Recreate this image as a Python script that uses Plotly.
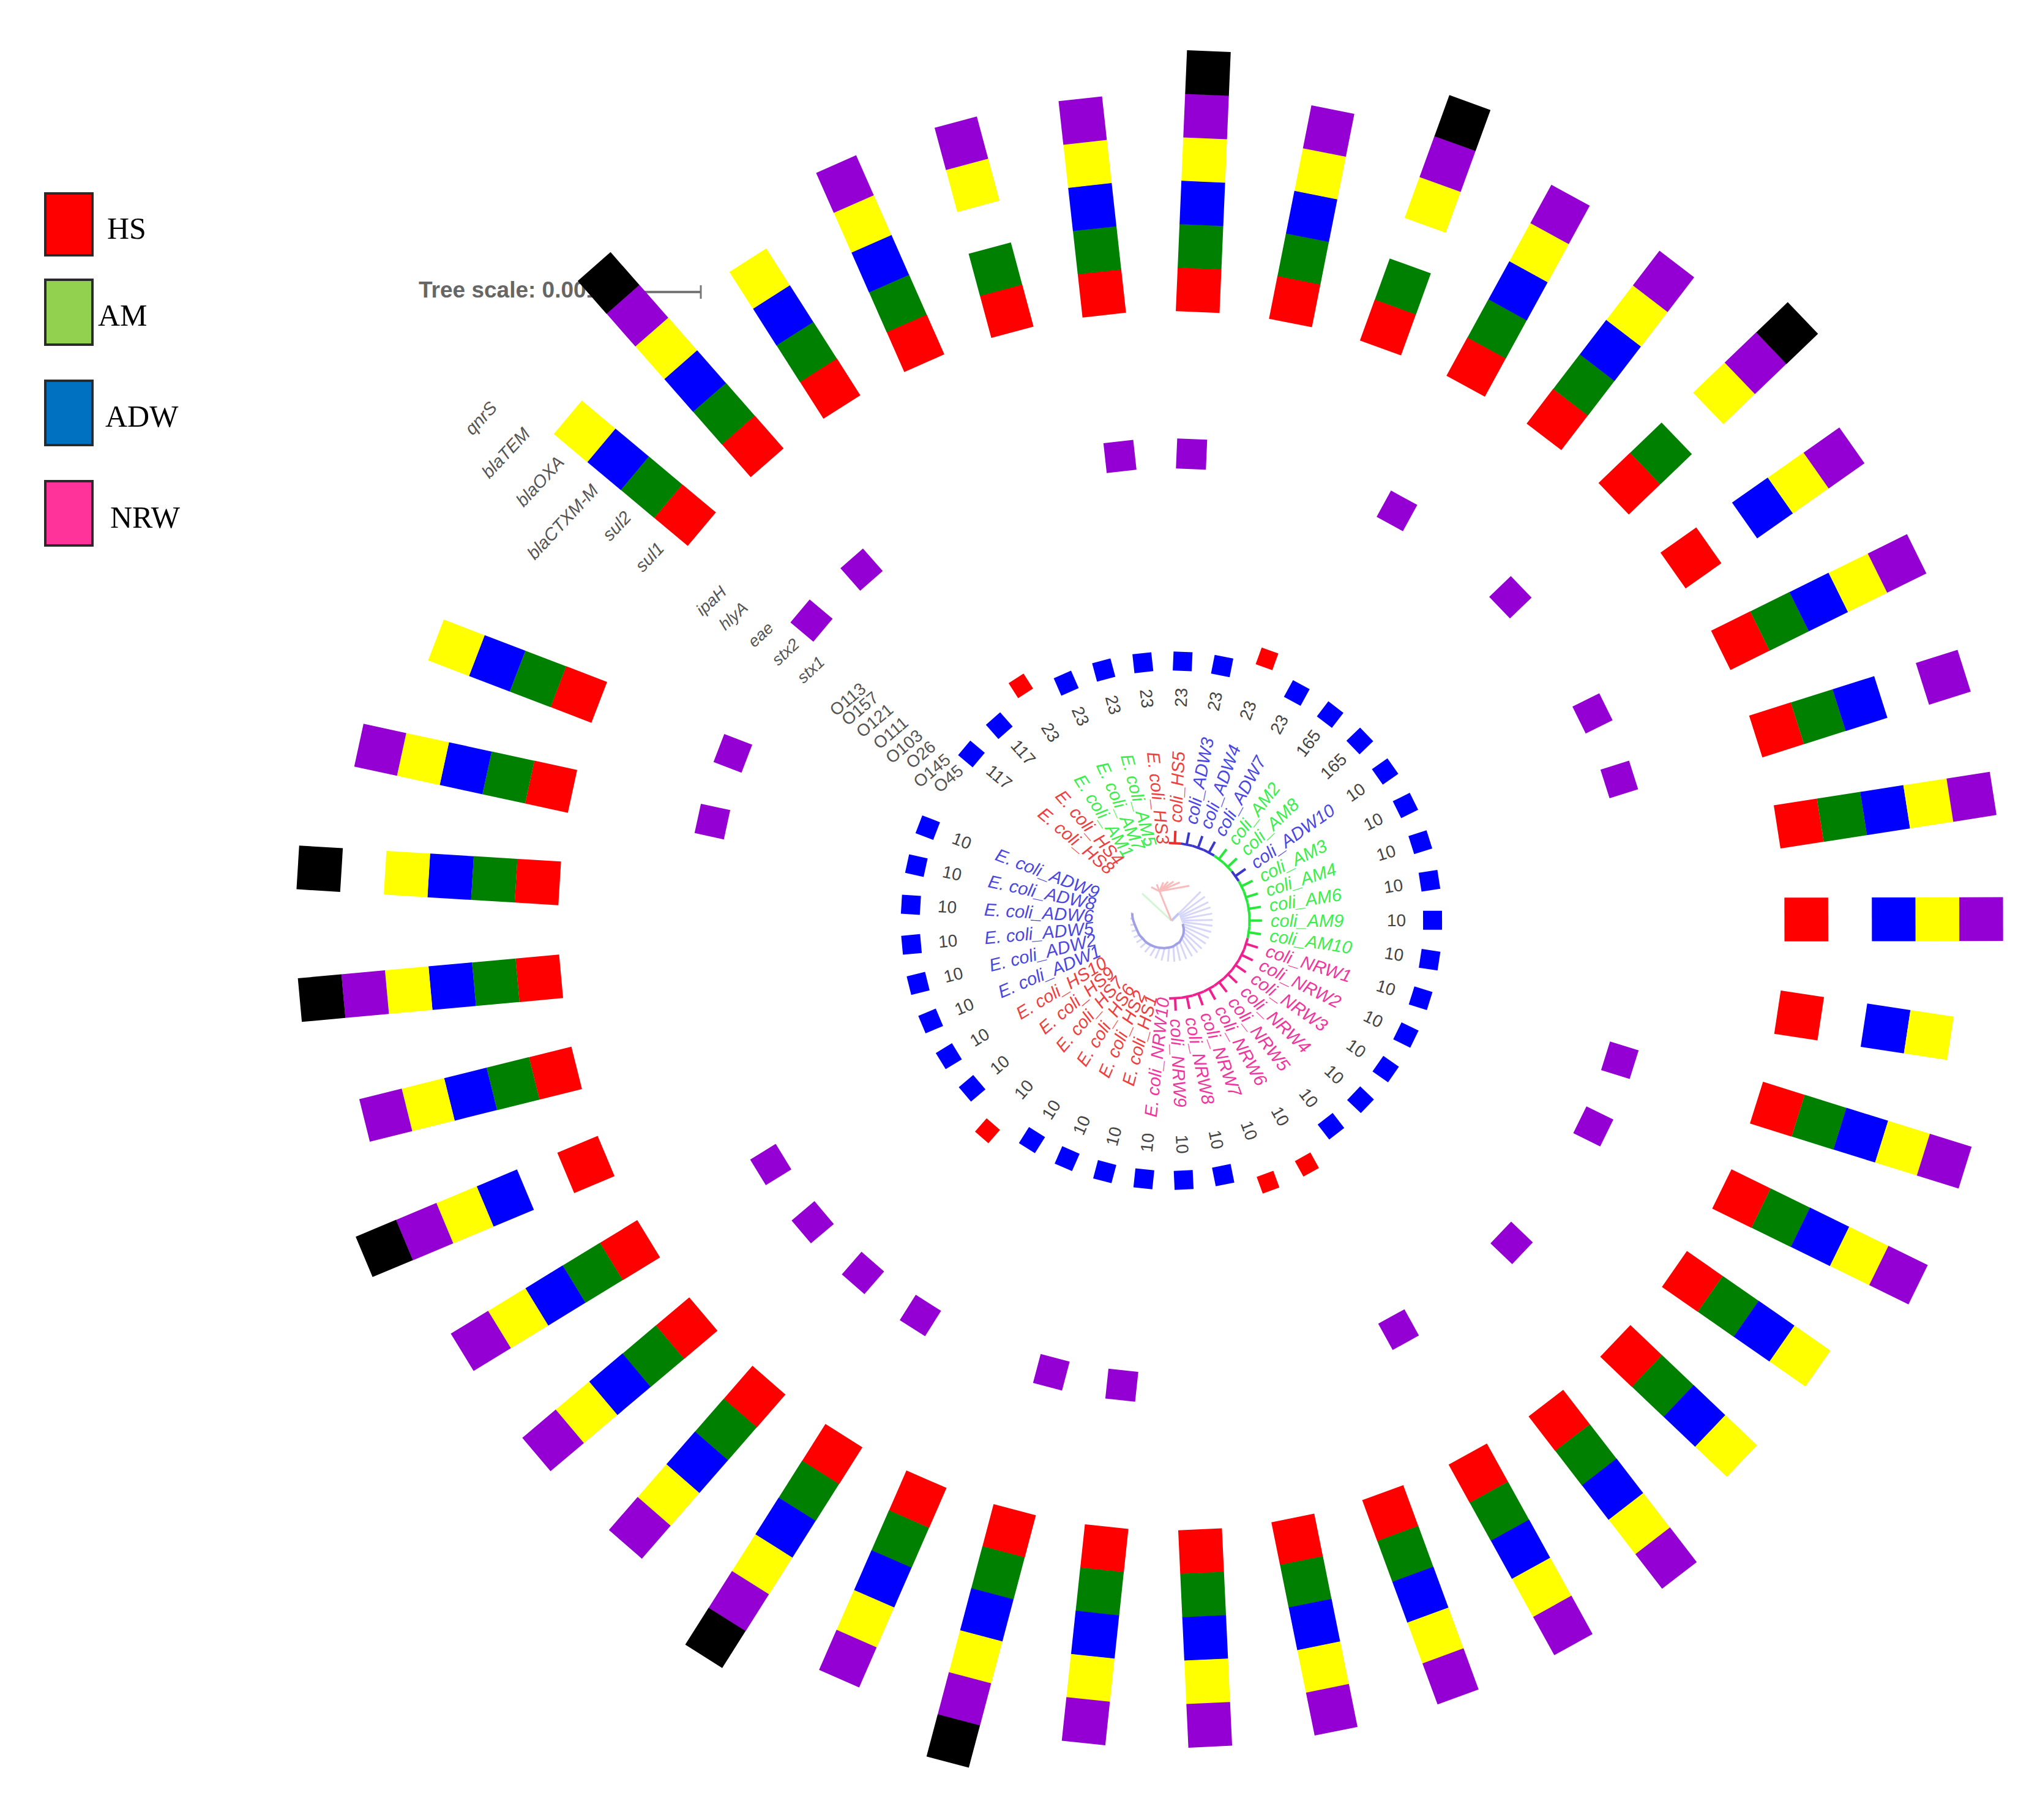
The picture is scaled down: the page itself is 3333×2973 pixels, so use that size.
import numpy as np
import plotly.graph_objects as go

# figure is drawn in pixel units with the tree root at the origin
WIDTH = 3333
HEIGHT = 2973
CX = 1914
CY = 1504
X_STRETCH = 1.006  # the picture is a little wider than it is tall

ISOLATES = ['ADW9', 'ADW8', 'ADW6', 'ADW5', 'ADW2', 'ADW1',
            'HS10', 'HS9', 'HS7', 'HS6', 'HS2', 'HS1',
            'NRW10', 'NRW9', 'NRW8', 'NRW7', 'NRW6', 'NRW5', 'NRW4', 'NRW3',
            'NRW2', 'NRW1',
            'AM10', 'AM9', 'AM6', 'AM4', 'AM3', 'ADW10', 'AM8', 'AM2',
            'ADW7', 'ADW4', 'ADW3', 'HS5', 'HS3', 'AM5', 'AM7', 'AM1',
            'HS4', 'HS8']

ST = [10, 10, 10, 10, 10, 10, 10, 10, 10, 10, 10, 10, 10, 10, 10, 10, 10, 10,
      10, 10, 10, 10, 10, 10, 10, 10, 10, 10, 165, 165, 23, 23, 23, 23, 23,
      23, 23, 23, 117, 117]

O45 = [1, 1, 1, 1, 1, 1, 1, 1, 0, 1, 1, 1, 1, 1, 1, 0, 0, 1, 1, 1,
       1, 1, 1, 1, 1, 1, 1, 1, 1, 1, 1, 0, 1, 1, 1, 1, 1, 0, 1, 1]
O145 = [1 - v for v in O45]
O_LABELS = ['O45', 'O145', 'O26', 'O103', 'O111', 'O121', 'O157', 'O113']

STX2 = [1, 1, 0, 0, 0, 0, 1, 1, 1, 1, 0, 1, 1, 0, 0, 0, 1, 0, 1, 0,
        1, 1, 0, 0, 0, 1, 1, 0, 1, 0, 1, 0, 0, 1, 1, 0, 0, 0, 1, 1]
VIR_LABELS = ['stx1', 'stx2', 'eae', 'hlyA', 'ipaH']

SUL1 = [1] * 40
SUL2 = [1, 1, 1, 1, 1, 0, 1, 1, 1, 1, 1, 1, 1, 1, 1, 1, 1, 1, 1, 1,
        1, 1, 0, 0, 1, 1, 1, 0, 1, 1, 1, 1, 1, 1, 1, 1, 1, 1, 1, 1]
CTXM = [1, 1, 1, 1, 1, 1, 1, 1, 1, 1, 1, 1, 1, 1, 1, 1, 1, 1, 1, 1,
        1, 1, 1, 1, 1, 1, 1, 1, 0, 1, 1, 0, 1, 1, 1, 0, 1, 1, 1, 1]
OXA = [1, 1, 1, 1, 1, 1, 1, 1, 1, 1, 1, 1, 1, 1, 1, 1, 1, 1, 1, 1,
       1, 1, 1, 1, 1, 0, 1, 1, 1, 1, 1, 1, 1, 1, 1, 1, 1, 1, 1, 1]
TEM = [0, 1, 0, 1, 1, 1, 1, 1, 1, 1, 1, 1, 1, 1, 1, 1, 1, 1, 0, 0,
       1, 1, 0, 1, 1, 1, 1, 1, 1, 1, 1, 1, 1, 1, 1, 1, 1, 0, 1, 0]
QNRS = [0, 0, 1, 1, 0, 1, 0, 0, 0, 1, 0, 1, 0, 0, 0, 0, 0, 0, 0, 0,
        0, 0, 0, 0, 0, 0, 0, 0, 1, 0, 0, 1, 0, 1, 0, 0, 0, 0, 1, 0]
GENES = [SUL1, SUL2, CTXM, OXA, TEM, QNRS]
GENE_LABELS = ['sul1', 'sul2', 'blaCTXM-M', 'blaOXA', 'blaTEM', 'qnrS']
GENE_COLORS = ['#ff0000', '#008000', '#0000ff', '#ffff00', '#9400d3', '#000000']

LEGEND_NAMES = ['HS', 'AM', 'ADW', 'NRW']
LEGEND_COLORS = ['#ff0000', '#92d050', '#0070c0', '#ff3399']

GROUP_TEXT = {'HS': '#ee3f3f', 'AM': '#3cee4c', 'ADW': '#4a46e2', 'NRW': '#f0359f'}
GROUP_LINE = {'HS': '#e83030', 'AM': '#25e83a', 'ADW': '#3a38cc', 'NRW': '#f0208f'}

# central tree (screen degrees, pixels)
FAN_ANGLES = [45, 36, 27, 19, 10, 1, -7, -16, -25, -34, -43, -51, -60, -69,
              -78, -86, -95, -104, -113, -121, -130, -139, -148, -156, -165,
              -174, -183, -191]
FAN_BASE = [17, 16, 15, 15, 15, 16, 17, 19, 21, 24, 27, 30, 33, 37,
            39, 42, 44, 46, 48, 50, 52, 54, 55, 57, 58, 60, 63, 65]
HS_TIP_ANGLES = [121, 112, 102, 95, 87, 78, 63]

START = 159
STEP = 8.744
THETA = [START + STEP * i for i in range(len(ISOLATES))]

CHAR_W = {'E': .667, '.': .278, ' ': .278, 'c': .5, 'o': .556, 'l': .222,
          'i': .222, '_': .556, 'A': .667, 'D': .722, 'W': .944, 'M': .833,
          'H': .722, 'S': .667, 'N': .722, 'R': .722}


def xy(r, deg):
    a = np.radians(deg)
    return r * np.cos(a), r * np.sin(a)


def px(x, y):
    return (x - CX) / X_STRETCH, CY - y


def group(name):
    return name.rstrip('0123456789')


def is_right(deg):
    return np.cos(np.radians(deg)) > 0


def radial_angle(deg):
    d = deg % 360
    return -d if is_right(d) else 180 - d


def text_width(text, size):
    return sum(CHAR_W.get(c, .556) for c in text) * size


def ring_trace(ring_r, theta, size, color):
    x, y = xy(ring_r, np.array(theta))
    return go.Scatter(x=x, y=y, mode='markers', hoverinfo='skip',
                      marker=dict(symbol='square', size=size, color=color,
                                  angle=[-t for t in theta],
                                  line=dict(width=0)))


def picked(flags):
    return [t for t, f in zip(THETA, flags) if f]


fig = go.Figure()

# scale label and bar go first, the outer blocks cover their right end
sx, sy = px(1000, 477)
ex, ey = px(1145, 477)
fig.add_trace(go.Scatter(x=[sx, ex], y=[sy, ey], mode='lines',
                         line=dict(color='#777777', width=4),
                         hoverinfo='skip'))
fig.add_trace(go.Scatter(x=[ex, ex], y=[ey - 11, ey + 11], mode='lines',
                         line=dict(color='#777777', width=3),
                         hoverinfo='skip'))
lx, ly = px(684, 477)
fig.add_trace(go.Scatter(x=[lx], y=[ly], mode='text',
                         text=['Tree scale: 0.001'],
                         textposition='middle right', hoverinfo='skip',
                         textfont=dict(family='Liberation Sans', size=37,
                                       color='#666666', weight='bold')))

# central tree
fx, fy = [], []
for ang, base in zip(FAN_ANGLES, FAN_BASE):
    x0, y0 = xy(base, ang)
    x1, y1 = xy(67, ang)
    fx += [x0, x1, None]
    fy += [y0, y1, None]
fig.add_trace(go.Scatter(x=fx, y=fy, mode='lines', hoverinfo='skip',
                         line=dict(color='#d6d6f8', width=3)))
bx, by = xy(np.array(FAN_BASE[7:]), np.array(FAN_ANGLES[7:]))
fig.add_trace(go.Scatter(x=bx, y=by, mode='lines', hoverinfo='skip',
                         line=dict(color='#a0a0e6', width=4, shape='spline')))
rx, ry = xy(17, 45)
fig.add_trace(go.Scatter(x=[0, rx], y=[0, ry], mode='lines', hoverinfo='skip',
                         line=dict(color='#c4c4f2', width=4)))
gx, gy = xy(65, 137)
fig.add_trace(go.Scatter(x=[0, gx], y=[0, gy], mode='lines', hoverinfo='skip',
                         line=dict(color='#d2f5d2', width=3)))
nx, ny = xy(52, 112)
hx, hy = [0, nx, None], [0, ny, None]
for ang in HS_TIP_ANGLES:
    tx, ty = xy(64, ang)
    hx += [nx, tx, None]
    hy += [ny, ty, None]
fig.add_trace(go.Scatter(x=hx, y=hy, mode='lines', hoverinfo='skip',
                         line=dict(color='#f8bcbc', width=3)))

# tips around the label circle, on the left the label text covers them
for name in GROUP_LINE:
    ax, ay = [], []
    for iso, t in zip(ISOLATES, THETA):
        if group(iso) != name or not is_right(t):
            continue
        arc = np.array([t - STEP / 2, t + STEP / 2])
        x0, y0 = xy(127, arc)
        ax += [x0[0], x0[1], None]
        ay += [y0[0], y0[1], None]
        x1, y1 = xy(np.array([127, 147]), t)
        ax += [x1[0], x1[1], None]
        ay += [y1[0], y1[1], None]
    fig.add_trace(go.Scatter(x=ax, y=ay, mode='lines', hoverinfo='skip',
                             line=dict(color=GROUP_LINE[name], width=4)))

# serogroup ring, virulence ring, resistance rings
fig.add_trace(ring_trace(424, picked(O45), 31, '#0000ff'))
fig.add_trace(ring_trace(455, picked(O145), 29, '#ff0000'))
fig.add_trace(ring_trace(763, picked(STX2), 49, '#9400d3'))
for i, (gene, color) in enumerate(zip(GENES, GENE_COLORS)):
    fig.add_trace(ring_trace(1031 + 71 * i, picked(gene), 71.5, color))

annotations = []


def label(x, y, text, size, color, angle=0, family='Liberation Sans'):
    annotations.append(dict(x=x, y=y, text=text, textangle=angle,
                            showarrow=False, xanchor='center', yanchor='middle',
                            font=dict(family=family, size=size, color=color)))


for iso, st, t in zip(ISOLATES, ST, THETA):
    d = t % 360
    right = is_right(d)
    shown = 'coli_' + iso if right else 'E. coli_' + iso
    inner = 161 if right else 126
    r = inner + text_width(shown, 29) / 2
    x, y = xy(r, d)
    label(x, y, '<i>' + shown + '</i>', 29, GROUP_TEXT[group(iso)],
          radial_angle(d))
    x, y = xy(365, d)
    label(x, y, str(st), 28, '#444444', radial_angle(d))

# column headers sit in the gap of the rings
for name, r, t in zip(GENE_LABELS, [1035, 1108, 1184, 1252, 1324, 1390],
                      [145, 144.4, 146.6, 145, 144.7, 143.8]):
    x, y = xy(r, t)
    label(x, y, '<i>' + name + '</i>', 29, '#555555', -47)
for name, r in zip(VIR_LABELS, [715, 765, 815, 868, 912]):
    x, y = xy(r, 145)
    label(x, y, '<i>' + name + '</i>', 27, '#555555', -43)
for name, r, t in zip(O_LABELS, [430, 460, 489, 519, 550, 582, 613, 638],
                      [147.3, 147.7, 146.3, 146.8, 146.1, 145.8, 145.6, 145.5]):
    x, y = xy(r, t)
    label(x, y, name, 28, '#555555', -40)

# legend
shapes = []
for name, color, top, bottom, tx, ty in zip(
        LEGEND_NAMES, LEGEND_COLORS, [316, 457, 622, 786],
        [417, 563, 727, 891], [207, 200, 232, 237], [373, 515, 680, 845]):
    x0, y0 = px(74, top)
    x1, y1 = px(151, bottom)
    shapes.append(dict(type='rect', x0=x0, y0=y0, x1=x1, y1=y1,
                       fillcolor=color, line=dict(color='#2a2a2a', width=4)))
    x, y = px(tx, ty)
    label(x, y, name, 50, '#000000', family='Liberation Serif')

fig.update_layout(
    width=WIDTH, height=HEIGHT, showlegend=False,
    margin=dict(l=0, r=0, t=0, b=0, pad=0),
    paper_bgcolor='white', plot_bgcolor='white',
    shapes=shapes, annotations=annotations,
    xaxis=dict(visible=False,
               range=[-CX / X_STRETCH, (WIDTH - CX) / X_STRETCH]),
    yaxis=dict(visible=False, range=[CY - HEIGHT, CY]),
)
fig.write_html("out.html", config={'displayModeBar': False},
               post_script="document.body.style.margin='0'")
